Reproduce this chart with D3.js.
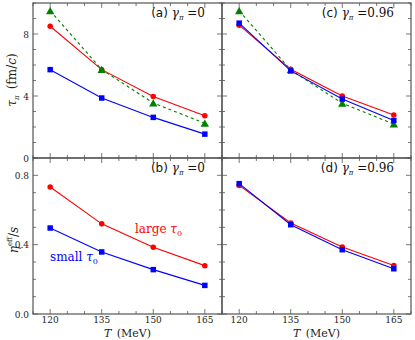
<!DOCTYPE html>
<html>
<head>
<meta charset="utf-8">
<script src="https://cdn.jsdelivr.net/npm/d3@7"></script>
<style>
  body { margin: 0; background: #fff; }
  svg { display: block; }
  text { font-family: "DejaVu Serif", serif; }
</style>
</head>
<body>
<svg width="415" height="340"></svg>
<script>
// temperatures (MeV)
var temps = [120, 135, 150, 165];

// tau_pi (fm/c), gamma_pi = 0
var tauA_large = [8.5, 5.7, 3.97, 2.72];
var tauA_small = [5.7, 3.87, 2.62, 1.54];
var tauA_ref = [9.5, 5.7, 3.55, 2.24];

// tau_pi (fm/c), gamma_pi = 0.96
var tauC_large = [8.57, 5.72, 4.0, 2.77];
var tauC_small = [8.7, 5.62, 3.8, 2.42];
var tauC_ref = [9.5, 5.68, 3.53, 2.19];

// eta_eff / s
var etaB_large = [0.733, 0.52, 0.385, 0.279];
var etaB_small = [0.496, 0.358, 0.256, 0.165];
var etaD_large = [0.742, 0.525, 0.387, 0.28];
var etaD_small = [0.752, 0.515, 0.371, 0.261];

var svg = d3.select('svg');
var axisColor = '#555';

var cols = [{x0: 33, x1: 222}, {x0: 222, x1: 411}];
var rows = [
	{y0: 3, y1: 158, domain: [0, 10], major: [0, 4, 8], minorStep: 1, fmt: d3.format('d')},
	{y0: 158, y1: 314, domain: [0, 0.9], major: [0, 0.4, 0.8], minorStep: 0.1, fmt: d3.format('.1f')}
];

var panels = [
	{col: 0, row: 0, label: '(a)', gamma: '0', series: [
		{v: tauA_large, color: 'red', marker: 'circle'},
		{v: tauA_ref, color: 'green', marker: 'triangle', dash: '3,3'},
		{v: tauA_small, color: 'blue', marker: 'square'}]},
	{col: 1, row: 0, label: '(c)', gamma: '0.96', series: [
		{v: tauC_ref, color: 'green', marker: 'triangle', dash: '3,3'},
		{v: tauC_large, color: 'red', marker: 'circle'},
		{v: tauC_small, color: 'blue', marker: 'square'}]},
	{col: 0, row: 1, label: '(b)', gamma: '0', series: [
		{v: etaB_large, color: 'red', marker: 'circle'},
		{v: etaB_small, color: 'blue', marker: 'square'}]},
	{col: 1, row: 1, label: '(d)', gamma: '0.96', series: [
		{v: etaD_large, color: 'red', marker: 'circle'},
		{v: etaD_small, color: 'blue', marker: 'square'}]}
];

var xMinor = d3.range(115, 171, 5);

panels.forEach(function (p) {
	var c = cols[p.col], r = rows[p.row];
	var x = d3.scaleLinear().domain([115, 170]).range([c.x0, c.x1]);
	var y = d3.scaleLinear().domain(r.domain).range([r.y1, r.y0]);
	var g = svg.append('g');

	var yMinor = d3.range(r.domain[0], r.domain[1] + 1e-9, r.minorStep);

	// inward ticks on all four sides
	var tk = g.append('g').attr('stroke', axisColor).attr('stroke-width', 0.8);
	xMinor.forEach(function (t) {
		var len = temps.indexOf(t) >= 0 ? 5 : 3;
		tk.append('line').attr('x1', x(t)).attr('x2', x(t)).attr('y1', r.y1).attr('y2', r.y1 - len);
		tk.append('line').attr('x1', x(t)).attr('x2', x(t)).attr('y1', r.y0).attr('y2', r.y0 + len);
	});
	yMinor.forEach(function (t) {
		var isMajor = r.major.some(function (m) { return Math.abs(m - t) < 1e-6; });
		var len = isMajor ? 5 : 3;
		tk.append('line').attr('x1', c.x0).attr('x2', c.x0 + len).attr('y1', y(t)).attr('y2', y(t));
		tk.append('line').attr('x1', c.x1).attr('x2', c.x1 - len).attr('y1', y(t)).attr('y2', y(t));
	});

	g.append('rect')
		.attr('x', c.x0).attr('y', r.y0)
		.attr('width', c.x1 - c.x0).attr('height', r.y1 - r.y0)
		.attr('fill', 'none').attr('stroke', axisColor).attr('stroke-width', 1.2);

	if (p.col === 0) {
		r.major.forEach(function (t) {
			g.append('text').attr('x', c.x0 - 4).attr('y', y(t) + 3.5)
				.attr('text-anchor', 'end').attr('font-size', 9).attr('fill', '#222')
				.text(r.fmt(t));
		});
	}
	if (p.row === 1) {
		temps.forEach(function (t) {
			g.append('text').attr('x', x(t)).attr('y', r.y1 + 9)
				.attr('text-anchor', 'middle').attr('font-size', 9).attr('fill', '#222')
				.text(t);
		});
		var xl = g.append('text').attr('x', (c.x0 + c.x1) / 2).attr('y', 337)
			.attr('text-anchor', 'middle').attr('font-size', 11).attr('fill', '#222');
		xl.append('tspan').attr('font-style', 'italic').text('T');
		xl.append('tspan').text('\u2002(MeV)');
	}

	// panel label
	var lab = g.append('text').attr('x', c.x1 - 17).attr('y', r.y0 + 14)
		.attr('text-anchor', 'end').attr('font-size', 12).attr('fill', '#111');
	lab.append('tspan').attr('font-family', 'DejaVu Sans').text(p.label + ' ');
	lab.append('tspan').attr('font-style', 'italic').text('\u03b3');
	lab.append('tspan').attr('font-size', 7).attr('dy', 3).attr('font-style', 'italic').text('\u03c0');
	lab.append('tspan').attr('dy', -3).text(' =' + p.gamma);

	var line = d3.line().x(function (d, i) { return x(temps[i]); }).y(function (d) { return y(d); });

	p.series.forEach(function (s) {
		g.append('path').datum(s.v).attr('d', line)
			.attr('fill', 'none').attr('stroke', s.color).attr('stroke-width', 1.1)
			.attr('stroke-dasharray', s.dash || null);
		var sym = s.marker === 'circle' ? d3.symbolCircle : s.marker === 'square' ? d3.symbolSquare : d3.symbolTriangle;
		var size = s.marker === 'circle' ? 24 : s.marker === 'square' ? 30 : 30;
		g.selectAll(null).data(s.v).enter().append('path')
			.attr('d', d3.symbol().type(sym).size(size))
			.attr('transform', function (d, i) {
				var dy = s.marker === 'triangle' ? 1 : 0;
				return 'translate(' + x(temps[i]) + ',' + (y(d) + dy) + ')';
			})
			.attr('fill', s.color);
	});
});

// y axis labels
var yl1 = svg.append('text').attr('transform', 'translate(16,80) rotate(-90)')
	.attr('text-anchor', 'middle').attr('font-size', 12).attr('fill', '#222');
yl1.append('tspan').attr('font-style', 'italic').text('\u03c4');
yl1.append('tspan').attr('font-style', 'italic').attr('font-size', 7).attr('dy', 3).text('\u03c0');
yl1.append('tspan').attr('dy', -3).text('\u2002(fm/');
yl1.append('tspan').attr('font-style', 'italic').text('c');
yl1.append('tspan').text(')');

var yl2 = svg.append('text').attr('transform', 'translate(18,240) rotate(-90)')
	.attr('text-anchor', 'middle').attr('font-size', 12).attr('fill', '#222');
yl2.append('tspan').attr('font-style', 'italic').text('\u03b7');
yl2.append('tspan').attr('font-size', 7).attr('dy', -6).text('eff');
yl2.append('tspan').attr('dy', 6).text('/');
yl2.append('tspan').attr('font-style', 'italic').text('s');

// annotations in panel (b)
var ann1 = svg.append('text').attr('x', 135).attr('y', 233).attr('font-size', 12).attr('fill', 'red');
ann1.append('tspan').text('large ');
ann1.append('tspan').attr('font-style', 'italic').text('\u03c4');
ann1.append('tspan').attr('font-size', 8).attr('dy', 3).text('0');

var ann2 = svg.append('text').attr('x', 50).attr('y', 261).attr('font-size', 12).attr('fill', 'blue');
ann2.append('tspan').text('small ');
ann2.append('tspan').attr('font-style', 'italic').text('\u03c4');
ann2.append('tspan').attr('font-size', 8).attr('dy', 3).text('0');
</script>
</body>
</html>
